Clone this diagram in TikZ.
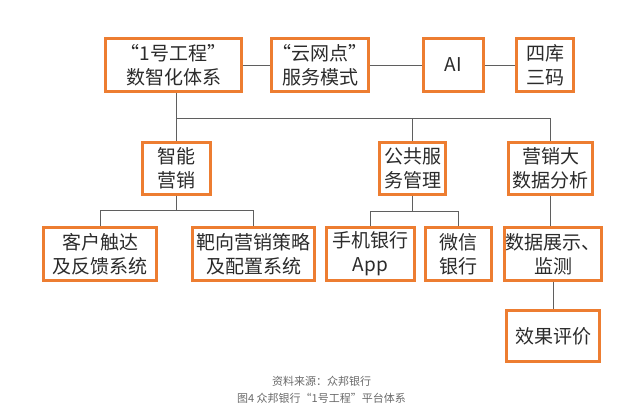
\documentclass[tikz,border=0pt]{standalone}
\usepackage{fontspec}
\newfontfamily\cjk{Noto Sans CJK SC}
\usepackage{tikz}
\usetikzlibrary{arrows.meta,positioning,calc}

\begin{document}
\begin{tikzpicture}[
  x=1pt,y=-1pt,
  font=\cjk,
  box/.style={draw=zbOrange,line width=2.6pt,fill=white,align=center,inner xsep=1pt,inner ysep=0pt,
    font=\cjk\fontsize{19}{24}\selectfont,text=zbText},
  link/.style={draw=zbLine,line width=0.8pt},
  note/.style={font=\cjk\fontsize{11}{13}\selectfont,text=zbCap},
]
\definecolor{zbOrange}{HTML}{ED7D31}
\definecolor{zbLine}{HTML}{5F5F5F}
\definecolor{zbText}{HTML}{2B2B2B}
\definecolor{zbCap}{HTML}{6A6A6A}

\useasboundingbox[fill=white] (0,0) rectangle (643,420);

% top row
\node[box,minimum width=136,minimum height=53] (gc) at (173.5,65) {“1号工程”\\数智化体系};
\node[box,minimum width=87,minimum height=53] (yw) at (320,65) {“云网点”\\服务模式};
\node[box,minimum width=60,minimum height=53] (ai) at (453.5,65) {AI};
\node[box,minimum width=57,minimum height=53] (sk) at (545,65) {四库\\三码};

\draw[link] (gc) -- (yw);
\draw[link] (yw) -- (ai);
\draw[link] (ai) -- (sk);

% second row
\node[box,minimum width=68,minimum height=52] (zn) at (176.5,168.5) {智能\\营销};
\node[box,minimum width=66,minimum height=52] (gg) at (412.5,168.5) {公共服\\务管理};
\node[box,minimum width=84,minimum height=52] (dsj) at (550.5,168.5) {营销大\\数据分析};

\draw[link] (zn.north) -- (zn.north |- gc.south);
\draw[link] (zn.north) -- ++(0,-23) -| (dsj.north);
\draw[link] (gg.north) -- ++(0,-23);

% third row
\node[box,minimum width=113,minimum height=53] (kh) at (100,254) {客户触达\\及反馈系统};
\node[box,minimum width=122,minimum height=53] (bx) at (253.5,254) {靶向营销策略\\及配置系统};
\node[box,minimum width=88,minimum height=53] (sj) at (370.5,254) {手机银行\\App};
\node[box,minimum width=66,minimum height=53] (wx) at (458.5,254) {微信\\银行};
\node[box,minimum width=93,minimum height=53] (zs) at (553,254) {数据展示、\\监测};
\node[box,minimum width=93,minimum height=51] (xg) at (553,336) {效果评价};

\draw[link] (zn.south) -- ++(0,15) -| (kh.north);
\draw[link] (zn.south) -- ++(0,15) -| (bx.north);
\draw[link] (gg.south) -- ++(0,16) -| (sj.north);
\draw[link] (gg.south) -- ++(0,16) -| (wx.north);
\draw[link] (dsj.south) -- (dsj.south |- zs.north);
\draw[link] (zs) -- (xg);

% caption
\node[note] (src) at (321.5,381) {资料来源：众邦银行};
\node[note] (fig) at (321.5,398) {图4 众邦银行“1号工程”平台体系};
\end{tikzpicture}
\end{document}
